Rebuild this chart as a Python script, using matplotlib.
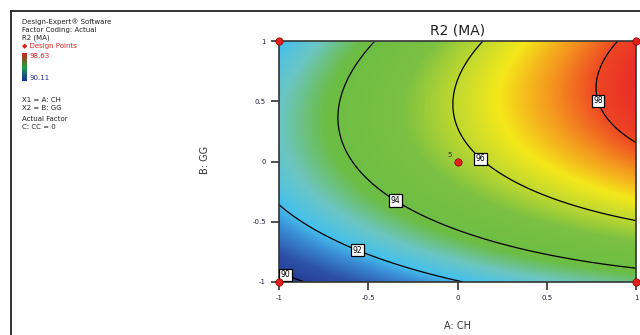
import numpy as np
import matplotlib
matplotlib.use("Agg")
import matplotlib.pyplot as plt
from matplotlib.colors import LinearSegmentedColormap
from matplotlib.lines import Line2D

# ---- data (quadratic response-surface coefficients) ----
coef_names = ["b0", "A", "B", "AB", "A2", "B2"]
coef_values = [95.64, 2.50, 1.81, 0.65, -0.48, -1.89]
contour_levels = [90, 92, 94, 96, 98]
label_positions = [(-0.955, -0.91), (-0.55, -0.70), (-0.33, -0.28), (0.146, 0.05), (0.775, 0.5)]
design_A = [-1, 1, -1, 1, 0]
design_B = [-1, -1, 1, 1, 0]
center_reps = "5"
resp_max = "98.63"
resp_min = "90.11"
x_ticks = [-1, -0.5, 0, 0.5, 1]
y_ticks = [-1, -0.5, 0, 0.5, 1]
x_ticklabels = ["-1", "-0.5", "0", "0.5", "1"]
y_ticklabels = ["-1", "-0.5", "0", "0.5", "1"]

c = dict(zip(coef_names, coef_values))

fig = plt.figure(figsize=(6.4, 3.35), dpi=100)
ax = fig.add_axes([279/640, 1-282/335, (636-279)/640, (282-41)/335])

a = np.linspace(-1, 1, 300)
b = np.linspace(-1, 1, 300)
AA, BB = np.meshgrid(a, b)
Z = (c["b0"] + c["A"]*AA + c["B"]*BB + c["AB"]*AA*BB
     + c["A2"]*AA**2 + c["B2"]*BB**2)

cmap = LinearSegmentedColormap.from_list(
    "de", [(0.0, "#24358f"), (0.12, "#2d52a8"), (0.21, "#3a8cd4"), (0.27, "#45c0ec"),
           (0.36, "#6cc6c4"), (0.46, "#6bbd45"), (0.62, "#7cc142"), (0.72, "#c4da2e"),
           (0.79, "#f4e81a"), (0.87, "#f5981f"), (0.94, "#ee4424"), (1.0, "#e8262a")])
ax.imshow(Z, extent=[-1, 1, -1, 1], origin="lower", cmap=cmap,
          vmin=89.6, vmax=98.6, aspect="auto", interpolation="bilinear")
cs = ax.contour(AA, BB, Z, levels=contour_levels, colors="black", linewidths=0.9)
labels = ax.clabel(cs, fmt="%d", fontsize=5.5, inline=False, manual=label_positions)
for t in labels:
    t.set_rotation(0)
    t.set_zorder(4)
    t.set_bbox(dict(boxstyle="square,pad=0.2", fc="white", ec="black", lw=0.9))

ax.scatter(design_A, design_B, s=28, marker="o", color="#e0201c",
           edgecolors="#8b0000", linewidths=0.5, zorder=5, clip_on=False)
ax.text(-0.03, 0.03, center_reps, fontsize=5, ha="right", va="bottom", color="#333333")

ax.set_xlim(-1, 1)
ax.set_ylim(-1, 1)
ax.set_xticks(x_ticks)
ax.set_xticklabels(x_ticklabels)
ax.set_yticks(y_ticks)
ax.set_yticklabels(y_ticklabels)
ax.tick_params(direction="out", length=6, width=1.2, labelsize=5, colors="#333333",
               labelcolor="#222244")
for s in ax.spines.values():
    s.set_linewidth(1.2)
    s.set_color("#333333")

ax.set_title("R2 (MA)", fontsize=10, color="#222222", pad=5)
fig.text(457/640, 1-326/335, "A: CH", fontsize=7, ha="center", va="center", color="#333333")
fig.text(205/640, 1-160/335, "B: GG", fontsize=7, ha="center", va="center",
         rotation=90, color="#333333")

# left info panel
fs = 5
def ft(x, y, s, col="#222222"):
    fig.text(x/640, 1-y/335, s, fontsize=fs, ha="left", va="center", color=col)
ft(22, 22, "Design-Expert® Software")
ft(22, 30, "Factor Coding: Actual")
ft(22, 38, "R2 (MA)")
ft(22, 46, "◆ Design Points", col="#d62020")
ft(29, 56, resp_max, col="#d62020")
ft(29, 78, resp_min, col="#2030a0")
ft(22, 100, "X1 = A: CH")
ft(22, 108, "X2 = B: GG")
ft(22, 119, "Actual Factor")
ft(22, 127, "C: CC = 0")

cax = fig.add_axes([22/640, 1-81/335, 5/640, 28/335])
grad = np.linspace(0, 1, 100).reshape(-1, 1)
cax.imshow(grad, origin="lower", aspect="auto",
           cmap=LinearSegmentedColormap.from_list("bar", ["#1a2a9a", "#20a040", "#d02020"]))
cax.set_axis_off()

# frame lines
fig.add_artist(Line2D([11/640, 11/640], [1-11/335, 0], transform=fig.transFigure,
                      color="#222222", lw=1.3))
fig.add_artist(Line2D([11/640, 1], [1-11/335, 1-11/335], transform=fig.transFigure,
                      color="#222222", lw=1.3))

fig.savefig("out.png", dpi=100)
